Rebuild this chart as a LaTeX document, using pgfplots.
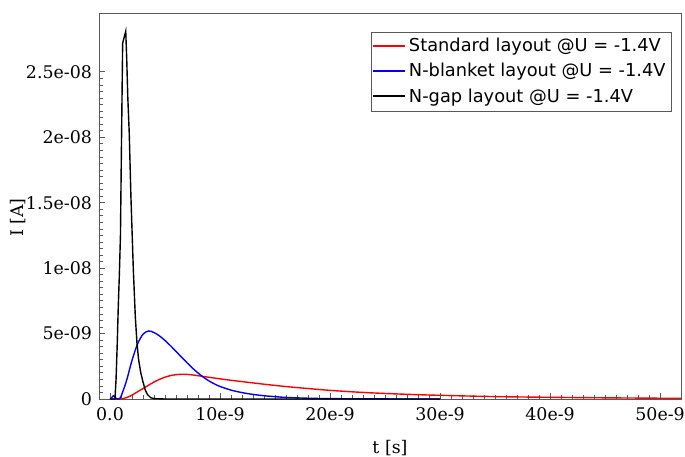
\documentclass[border=0pt]{standalone}
\usepackage{pgfplots}
\pgfplotsset{compat=1.18}
\usepackage{fontspec}
\setmainfont{DejaVu Serif}
\newfontfamily\dvsans{DejaVu Sans}
\definecolor{axgray}{gray}{0.35}
\newcommand\legline[1]{\node[inner sep=0pt, anchor=west] at (0pt,0pt) {\textcolor{#1}{\rule[-0.5pt]{16pt}{1pt}}};}
\begin{document}
\begin{tikzpicture}
\useasboundingbox (-49.5pt,-28.5pt) rectangle (293pt,199.5pt);
\begin{axis}[
  scale only axis,
  width=291pt, height=193pt,
  xmin=-1, xmax=51.9, ymin=0, ymax=29.5,
  axis line style={axgray},
  every tick/.style={axgray},
  tick align=inside,
  major tick length=3pt, minor tick length=1.8pt,
  xtick={0,10,20,30,40,50},
  xticklabels={0.0,10e-9,20e-9,30e-9,40e-9,50e-9},
  ytick={0,5,10,15,20,25},
  yticklabels={0,5e-09,1e-08,1.5e-08,2e-08,2.5e-08},
  minor x tick num=9, minor y tick num=9,
  xtick pos=bottom, ytick pos=left,
  tick label style={font=\fontsize{8.7}{10}\selectfont},
  xticklabel style={yshift=-1pt},
  label style={font=\fontsize{8.7}{10}\selectfont},
  xlabel={t [s]}, ylabel={I [A]},
  xlabel style={at={(axis description cs:0.5,0)}, anchor=center, yshift=-24.5pt},
  ylabel style={at={(axis description cs:-0.139,0.47)}, anchor=center},
  legend style={at={(rel axis cs:0.9845,0.951)}, anchor=north east,
    draw=axgray, font=\dvsans\fontsize{8.9}{10}\selectfont,
    inner sep=1pt, row sep=0.3pt, cells={anchor=west}},
]
\addlegendimage{legend image code/.code={\legline{red}}}
\addlegendentry{Standard layout @U = -1.4V}
\addlegendimage{legend image code/.code={\legline{blue}}}
\addlegendentry{N-blanket layout @U = -1.4V}
\addlegendimage{legend image code/.code={\legline{black}}}
\addlegendentry{N-gap layout @U = -1.4V}
\addplot[red, smooth, line width=0.7pt, forget plot] coordinates {
(0,0) (0.8,0) (1.0,0.01) (1.5,0.1) (2.0,0.3) (2.5,0.55) (3.0,0.8) (3.5,1.05)
(4.0,1.3) (4.5,1.5) (5.0,1.67) (5.5,1.79) (6.0,1.86) (6.5,1.89) (7.0,1.88)
(7.5,1.84) (8.0,1.78) (9,1.66) (10,1.54) (11,1.43) (12,1.33) (13,1.23)
(14,1.13) (15,1.04) (16,0.95) (18,0.8) (20,0.66) (22,0.55) (24,0.46)
(26,0.39) (28,0.33) (30,0.28) (33,0.22) (36,0.17) (40,0.13) (45,0.09)
(50,0.06) (51.9,0.05)
};
\addplot[blue, smooth, line width=0.7pt, forget plot] coordinates {
(0,0) (0.15,0.1) (0.3,0.25) (0.45,0.15) (0.6,0.02) (0.8,0) (1.0,0.2)
(1.5,1.4) (2.0,2.95) (2.5,4.2) (3.0,4.95) (3.5,5.2) (4.0,5.08) (4.5,4.82)
(5.0,4.47) (5.5,4.07) (6.0,3.64) (6.5,3.2) (7.0,2.77) (7.5,2.36) (8.0,1.99)
(8.5,1.66) (9.0,1.38) (9.5,1.15) (10,0.96) (11,0.68) (12,0.49) (13,0.35)
(14,0.25) (15,0.18) (16,0.12) (18,0.06) (20,0.03) (25,0.005) (30,0)
};
\addplot[black, line width=0.7pt, forget plot] coordinates {
(0,0) (0.45,0) (0.55,1.5) (0.65,4) (0.75,7) (0.85,9.5) (0.95,12.5)
(1.05,20) (1.15,27.2) (1.43,28.1) (1.52,26) (1.62,23) (1.75,20.3)
(1.9,15.5) (2.12,9.9) (2.3,6.3) (2.45,4.3) (2.6,3.0) (2.8,2.0) (3.0,1.3)
(3.2,0.7) (3.4,0.35) (3.7,0.1) (4.0,0.03) (5,0) (30,0)
};
\end{axis}
\end{tikzpicture}
\end{document}
